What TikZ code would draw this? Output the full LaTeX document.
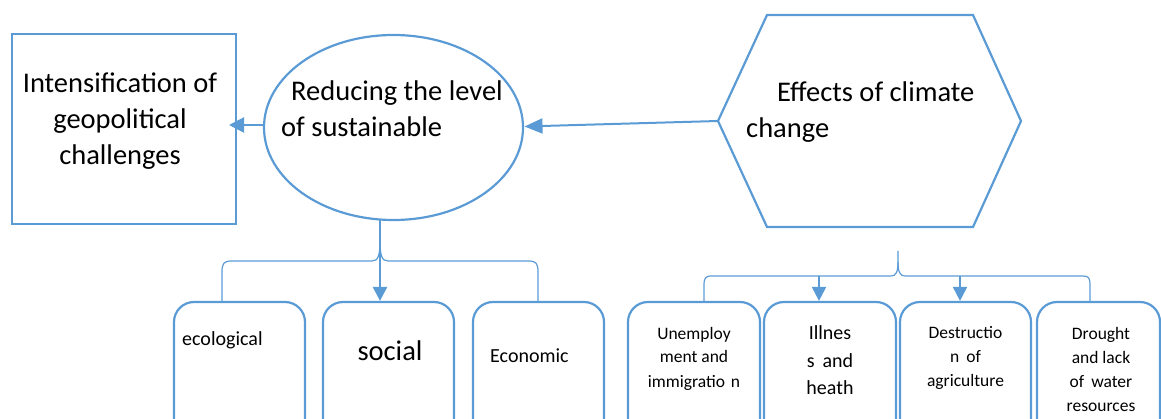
\documentclass[tikz,border=0pt]{standalone}
\usepackage{fontspec}
\setmainfont{Carlito}
\usetikzlibrary{arrows.meta,shapes.geometric}
\definecolor{acc}{RGB}{91,155,213}
\newcommand\mlc[1]{\begin{tabular}[t]{@{}c@{}}#1\end{tabular}}
\newcommand\mll[1]{\begin{tabular}[t]{@{}l@{}}#1\end{tabular}}
\begin{document}
\begin{tikzpicture}[x=1pt,y=-1pt,
  shp/.style={draw=acc,line width=2.2pt,inner sep=0pt},
  rbox/.style={shp,rounded corners=20pt,minimum width=#1,minimum height=140pt},
  txt/.style={inner sep=0pt,anchor=base,text=black},
  bigf/.style={font=\fontsize{28.5}{36}\selectfont},
  midf/.style={font=\fontsize{20}{27.5}\selectfont},
  smf/.style={font=\fontsize{17.5}{24}\selectfont},
  brc/.style={draw=acc,line width=1.2pt},
  arr/.style={draw=acc,line width=2pt,-{Triangle[width=14pt,length=14pt]}},
]
\useasboundingbox (0,0) rectangle (1161,419);
\clip (0,0) rectangle (1161,419);

% top shapes
\node[shp,rectangle,minimum width=224pt,minimum height=190pt] (rect) at (124,129) {};
\node[shp,ellipse,minimum width=259pt,minimum height=185pt] (ell) at (393.5,127.5) {};
\draw[shp] (767,15) coordinate (hexTL) -- (973,15) coordinate (hexTR) -- (1021,121) coordinate (hexE)
  -- (973,227) coordinate (hexBR) -- (767,227) coordinate (hexBL) -- (718,121) coordinate (hexW) -- cycle;

\node[txt,bigf] (trect) at (120,92.5) {\mlc{Intensification of\\geopolitical\\challenges}};
\node[txt,bigf,anchor=base west] (tell) at (281,101) {\mll{\hspace{10pt}Reducing the level\\of sustainable}};
\node[txt,bigf,anchor=base west] (thex) at (746,102) {\mll{\hspace{31pt}Effects of climate\\change}};

% top arrows
\coordinate (ellE) at (524.5,126.5);
\draw[arr,-{Triangle[width=15pt,length=18pt]}] (hexW) -- (ellE);
\coordinate (rectTip) at (229,125);
\draw[arr,-{Triangle[width=15pt,length=15pt]}] (ell.west |- rectTip) -- (rectTip);

% left boxes
\node[rbox=131pt] (b1) at (239.5,372) {};
\node[rbox=131pt] (b2) at (388.5,372) {};
\node[rbox=131pt] (b3) at (538.5,372) {};
\node[txt,midf,anchor=base west] (tb1) at (182,345) {ecological};
\node[txt,font=\fontsize{28.5}{34}\selectfont] (tb2) at (390,360) {social};
\node[txt,midf,anchor=base west] (tb3) at (490,362) {Economic};

% left brace
\coordinate (lTip) at (380,220);
\coordinate (lMid) at (380,240);
\coordinate (lL) at (222,302);
\coordinate (lR) at (538,302);
\draw[brc] (lL) -- (222,272) .. controls (222,263) and (224,261) .. (232,261) -- (372,261)
  .. controls (378,261) and (380,256) .. (lMid) -- (lTip);
\draw[brc] (lMid) .. controls (380,256) and (382,261) .. (388,261) -- (528,261)
  .. controls (536,261) and (538,263) .. (538,272) -- (lR);
\draw[arr,line width=2.5pt] (lTip) -- (lTip |- b2.north);

% right boxes
\node[rbox=132pt] (r1) at (694,372) {};
\node[rbox=132pt] (r2) at (830,372) {};
\node[rbox=131pt] (r3) at (965.5,372) {};
\node[rbox=123pt] (r4) at (1098.5,372) {};
\node[txt,smf] (tr1) at (694,339) {\mlc{Unemploy\\ment and\\immigratio\hspace{6pt}n}};
\node[txt,midf] (tr2) at (830,340) {\mlc{Illnes\\s\hspace{8pt}and\\heath}};
\node[txt,smf] (tr3) at (965.5,338) {\mlc{Destructio\\n\hspace{7pt}of\\agriculture}};
\node[txt,smf] (tr4) at (1101,339.5) {\mlc{Drought\\and lack\\of\hspace{7pt}water\\resources}};

% right brace
\coordinate (rTip) at (898,251);
\coordinate (rMid) at (898,262);
\coordinate (rL) at (704,302);
\coordinate (rR) at (1090,302);
\draw[brc] (rL) -- (704,286) .. controls (704,278) and (705,276) .. (712,276) -- (891,276)
  .. controls (896,276) and (898,272) .. (rMid) -- (rTip);
\draw[brc] (rMid) .. controls (898,272) and (900,276) .. (905,276) -- (1083,276)
  .. controls (1089,276) and (1090,278) .. (1090,286) -- (rR);
\coordinate (a1) at (819,276);
\coordinate (a2) at (960,276);
\draw[arr] (a1) -- (a1 |- r2.north);
\draw[arr] (a2) -- (a2 |- r3.north);
\end{tikzpicture}
\end{document}
